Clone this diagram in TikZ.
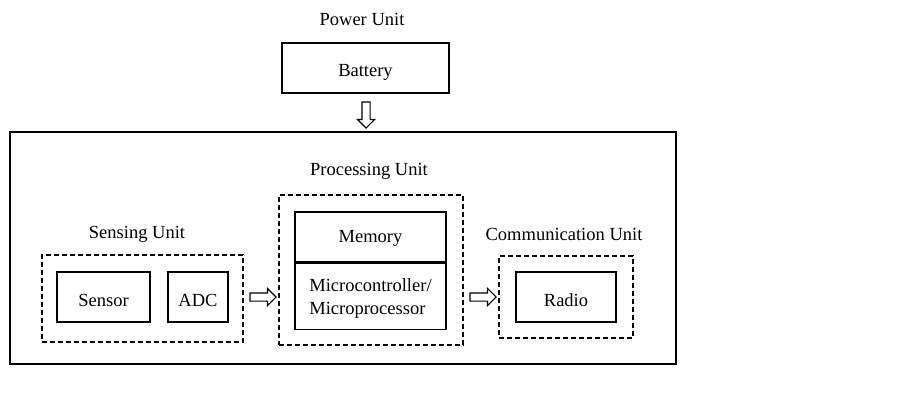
\documentclass[tikz,border=0pt]{standalone}
\usepackage{fontspec}
\setmainfont{Liberation Serif}
\usetikzlibrary{shapes.arrows,calc}
\begin{document}
\begin{tikzpicture}[x=1pt,y=-1pt,
  font=\fontsize{18.5}{23}\selectfont,
  box/.style={draw, line width=1.3pt, rectangle, inner sep=0pt, align=center},
  dbox/.style={draw, line width=1.1pt, dash pattern=on 5pt off 3pt, rectangle, inner sep=0pt},
  label/.style={inner sep=0pt},
  lower/.style={text height=#1, text depth=0pt},
  harrow/.style={draw, line width=1.1pt, single arrow, inner sep=3.5pt, single arrow head extend=4.5pt, single arrow tip angle=90, minimum height=26pt}
]
\useasboundingbox (0,0) rectangle (910,420);
\node[label] (power) at (362,19) {Power Unit};
\node[box, lower=17pt, minimum width=167pt, minimum height=50pt] (battery) at (365.5,68) {Battery};
\node[box, minimum width=666pt, minimum height=232pt] (outer) at (343,248) {};
\node[harrow, shape border rotate=270] (adown) at (366,113) {};

\node[label] (proclbl) at (369,171.5) {Processing Unit};
\node[dbox, minimum width=184pt, minimum height=150pt] (proc) at (371,270) {};
\node[box, lower=11pt, minimum width=151pt, minimum height=50pt] (memory) at (370.5,237) {Memory};
\node[box, minimum width=151pt, minimum height=66pt, anchor=north] (micro) at (memory.south) {};
\node[label, align=left] (microtxt) at ([yshift=-2pt]micro.center) {Microcontroller/\\Microprocessor};

\node[label] (senslbl) at (137,234.5) {Sensing Unit};
\node[dbox, minimum width=201pt, minimum height=87pt] (sens) at (142.5,298.5) {};
\node[box, lower=19pt, minimum width=93pt, minimum height=50pt] (sensor) at (103.5,297) {Sensor};
\node[box, lower=19pt, minimum width=60pt, minimum height=50pt] (adc) at (198,297) {ADC};

\node[label] (commlbl) at (564,234) {Communication Unit};
\node[dbox, minimum width=134pt, minimum height=82pt] (comm) at (566,297) {};
\node[box, lower=18pt, minimum width=100pt, minimum height=50pt] (radio) at (566,297) {Radio};

\coordinate (m1) at ($(sens.east)!0.5!(proc.west)$);
\coordinate (m2) at ($(proc.east)!0.5!(comm.west)$);
\node[harrow] (a1) at (m1 |- adc.center) {};
\node[harrow] (a2) at (m2 |- radio.center) {};
\end{tikzpicture}
\end{document}
